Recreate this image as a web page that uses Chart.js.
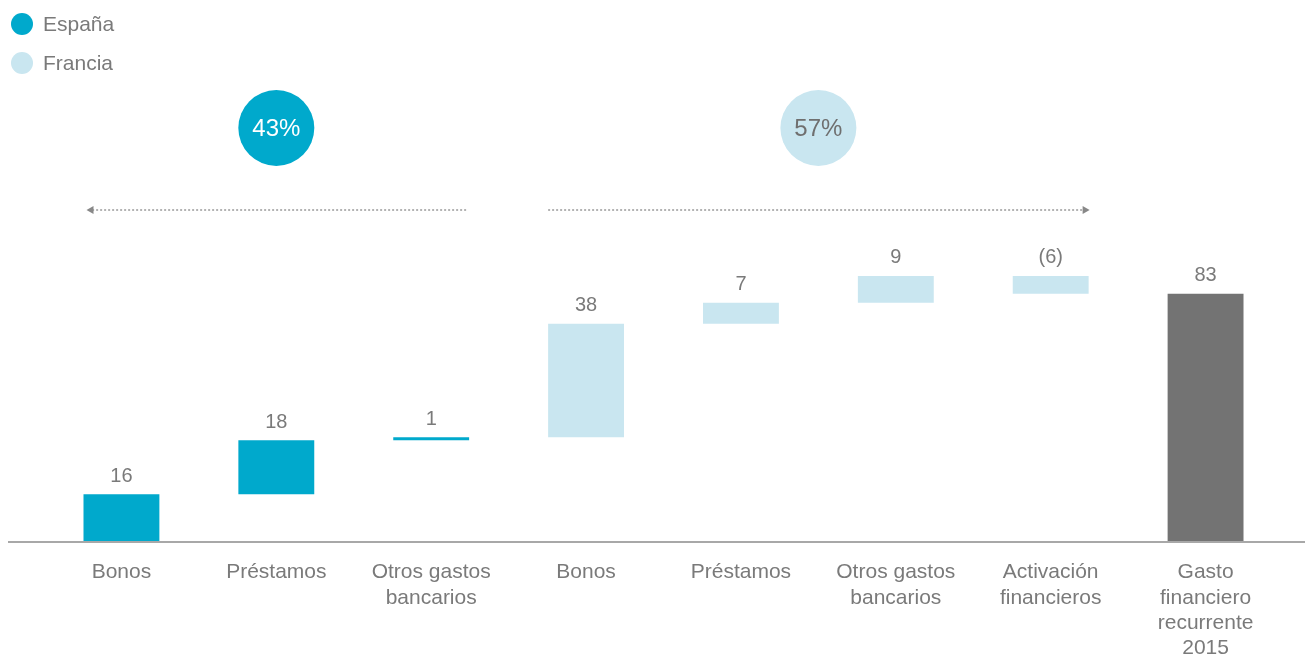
<!DOCTYPE html>
<html>
<head>
<meta charset="utf-8">
<script src="https://cdn.jsdelivr.net/npm/chart.js@4/dist/chart.umd.min.js"></script>
<style>
  html, body { margin: 0; padding: 0; background: #fff; }
  #wrap { width: 1305px; height: 657px; position: relative; }
</style>
</head>
<body>
<div id="wrap"><canvas id="chart"></canvas></div>
<script>
// Waterfall of financial expense by country
const categories = [
    ['Bonos'], ['Préstamos'], ['Otros gastos', 'bancarios'],
    ['Bonos'], ['Préstamos'], ['Otros gastos', 'bancarios'],
    ['Activación', 'financieros'], ['Gasto', 'financiero', 'recurrente', '2015']
];
const steps = [16, 18, 1, 38, 7, 9, -6, 83];
const valueLabels = ['16', '18', '1', '38', '7', '9', '(6)', '83'];
const groups = ['es', 'es', 'es', 'fr', 'fr', 'fr', 'fr', 'total'];
const legendItems = ['España', 'Francia'];
const shares = ['43%', '57%'];

const colors = { es: '#00a9cc', fr: '#c9e6f0', total: '#737373' };
const textGrey = '#7a7a7a';
const fontFamily = '"Liberation Sans", Arial, Helvetica, sans-serif';

// floating ranges: running total, last bar starts from zero
let running = 0;
const ranges = steps.map((v, i) => {
    if (groups[i] === 'total') return [0, v];
    const start = running;
    running += v;
    return [start, running];
});

const overlay = {
    id: 'overlay',
    afterDraw(chart) {
        const ctx = chart.ctx;
        const meta = chart.getDatasetMeta(0);
        ctx.save();

        // baseline
        ctx.strokeStyle = '#a8a8a8';
        ctx.lineWidth = 2;
        ctx.beginPath();
        ctx.moveTo(8, chart.chartArea.bottom);
        ctx.lineTo(1305, chart.chartArea.bottom);
        ctx.stroke();

        // value labels above each bar
        ctx.fillStyle = textGrey;
        ctx.font = '20px ' + fontFamily;
        ctx.textAlign = 'center';
        ctx.textBaseline = 'middle';
        meta.data.forEach((bar, i) => {
            const top = Math.min(bar.y, bar.base);
            ctx.fillText(valueLabels[i], bar.x, top - 18);
        });

        // legend
        [colors.es, colors.fr].forEach((c, i) => {
            const cy = 24 + i * 39;
            ctx.fillStyle = c;
            ctx.beginPath();
            ctx.arc(22, cy, 11, 0, Math.PI * 2);
            ctx.fill();
            ctx.fillStyle = textGrey;
            ctx.font = '21px ' + fontFamily;
            ctx.textAlign = 'left';
            ctx.fillText(legendItems[i], 43, cy + 1);
        });

        // share bubbles and dotted arrows per country
        const half = meta.data[0].width / 2;
        const spans = [[0, 2, colors.es, '#ffffff', -1], [3, 6, colors.fr, '#6f6f6f', 1]];
        spans.forEach(([a, b, fill, txt, dir], k) => {
            const x0 = meta.data[a].x - half;
            const x1 = meta.data[b].x + half;
            const cx = (meta.data[a].x + meta.data[b].x) / 2;
            ctx.fillStyle = fill;
            ctx.beginPath();
            ctx.arc(cx, 128, 38, 0, Math.PI * 2);
            ctx.fill();
            ctx.fillStyle = txt;
            ctx.font = '24px ' + fontFamily;
            ctx.textAlign = 'center';
            ctx.fillText(shares[k], cx, 129);

            const ay = 210;
            const tip = dir < 0 ? x0 + 3 : x1 + 1;
            const tail = dir < 0 ? x1 - 3 : x0;
            ctx.strokeStyle = '#9a9a9a';
            ctx.lineWidth = 1.5;
            ctx.setLineDash([2, 2]);
            ctx.beginPath();
            ctx.moveTo(tail, ay);
            ctx.lineTo(tip - dir * 6, ay);
            ctx.stroke();
            ctx.setLineDash([]);
            ctx.fillStyle = '#888888';
            ctx.beginPath();
            ctx.moveTo(tip, ay);
            ctx.lineTo(tip - dir * 7, ay - 4);
            ctx.lineTo(tip - dir * 7, ay + 4);
            ctx.closePath();
            ctx.fill();
        });
        ctx.restore();
    }
};

new Chart(document.getElementById('chart'), {
    type: 'bar',
    data: {
        labels: categories,
        datasets: [{
            data: ranges,
            backgroundColor: groups.map(g => colors[g]),
            borderWidth: 0,
            borderSkipped: false,
            barPercentage: 0.49,
            categoryPercentage: 1
        }]
    },
    options: {
        responsive: true,
        maintainAspectRatio: false,
        animation: false,
        layout: { padding: { top: 243, left: 44, right: 22, bottom: 0 } },
        plugins: { legend: { display: false }, tooltip: { enabled: false } },
        scales: {
            x: {
                grid: { display: false },
                border: { display: false },
                ticks: {
                    color: textGrey,
                    font: { family: fontFamily, size: 21, lineHeight: 1.2 },
                    padding: 10,
                    maxRotation: 0,
                    autoSkip: false
                },
                afterFit(scale) { scale.height = 115; }
            },
            y: {
                display: false,
                min: 0,
                max: 100
            }
        }
    },
    plugins: [overlay]
});
</script>
</body>
</html>
